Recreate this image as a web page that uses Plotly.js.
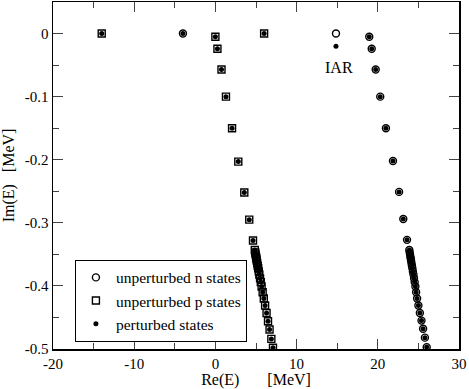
<!DOCTYPE html>
<html><head><meta charset="utf-8">
<script src="https://cdn.plot.ly/plotly-3.0.1.min.js"></script>
<style>html,body{margin:0;padding:0;background:#fff}#chart{width:469px;height:389px}</style>
</head><body><div id="chart"></div>
<script>
// unperturbed states on the real axis
const nTopRe = [-4, 14.85];
const nTopIm = [0, 0];
const pTopRe = [-14, 6];
const pTopIm = [0, 0];
// perturbed states on the real axis (IAR shifted)
const pertTopRe = [-14, -4, 6, 14.85];
const pertTopIm = [0, 0, 0, -0.02];
// p-state resonance branch (left)
const leftRe = [0.0, 0.25, 0.75, 1.30, 2.05, 2.82, 3.56, 4.17, 4.63, 4.85, 4.91, 4.95, 5.01, 5.05, 5.09, 5.15, 5.21, 5.27, 5.34, 5.41, 5.50, 5.59, 5.69, 5.82, 5.96, 6.12, 6.30, 6.48, 6.67, 6.89, 7.09];
const leftIm = [-0.005, -0.024, -0.057, -0.100, -0.150, -0.203, -0.252, -0.295, -0.328, -0.343, -0.347, -0.350, -0.354, -0.357, -0.360, -0.364, -0.368, -0.372, -0.377, -0.382, -0.388, -0.394, -0.401, -0.410, -0.420, -0.431, -0.443, -0.456, -0.469, -0.484, -0.498];
// n-state resonance branch (right)
const rightRe = [18.95, 19.25, 19.74, 20.30, 21.00, 21.87, 22.62, 23.14, 23.60, 23.88, 23.93, 23.97, 24.02, 24.06, 24.10, 24.15, 24.20, 24.26, 24.32, 24.39, 24.46, 24.54, 24.63, 24.72, 24.84, 25.00, 25.18, 25.38, 25.58, 25.80, 26.02];
const rightIm = [-0.005, -0.024, -0.057, -0.100, -0.150, -0.202, -0.251, -0.294, -0.327, -0.343, -0.347, -0.350, -0.354, -0.357, -0.360, -0.364, -0.368, -0.372, -0.377, -0.382, -0.388, -0.394, -0.401, -0.410, -0.420, -0.431, -0.443, -0.455, -0.468, -0.482, -0.497];

const xTicks = [-20, -10, 0, 10, 20, 30];
const xTickText = ['-20', '-10', '0', '10', '20', '30'];
const yTicks = [0, -0.1, -0.2, -0.3, -0.4, -0.5];
const yTickText = ['0', '-0.1', '-0.2', '-0.3', '-0.4', '-0.5'];

const F = 'Liberation Serif';
const traces = [
  {x: nTopRe.concat(rightRe), y: nTopIm.concat(rightIm), mode: 'markers', type: 'scatter', name: 'unperturbed n states',
   marker: {symbol: 'circle-open', size: 7, color: '#000', line: {width: 1.4, color: '#000'}}},
  {x: pTopRe.concat(leftRe), y: pTopIm.concat(leftIm), mode: 'markers', type: 'scatter', name: 'unperturbed p states',
   marker: {symbol: 'square-open', size: 7, color: '#000', line: {width: 1.4, color: '#000'}}},
  {x: pertTopRe.concat(leftRe, rightRe), y: pertTopIm.concat(leftIm, rightIm), mode: 'markers', type: 'scatter', name: 'perturbed states',
   marker: {symbol: 'circle', size: 5, color: '#000'}}
];
const axBase = {showline: true, linecolor: '#000', linewidth: 1.5, mirror: 'allticks', ticks: 'inside', ticklen: 10, tickwidth: 1, tickcolor: '#444',
  showgrid: false, zeroline: false, tickfont: {family: F, size: 15, color: '#000'}, tickmode: 'array'};
const layout = {
  width: 469, height: 389,
  margin: {l: 53, r: 10, t: 2, b: 40},
  paper_bgcolor: '#fff', plot_bgcolor: '#fff',
  font: {family: F, size: 15, color: '#000'},
  showlegend: true,
  legend: {x: 0.054, y: 0.257, xanchor: 'left', yanchor: 'top', bordercolor: '#000', borderwidth: 1, bgcolor: '#fff',
    font: {family: F, size: 15.5, color: '#000'}, itemwidth: 30, tracegroupgap: 0},
  xaxis: Object.assign({}, axBase, {range: [-20, 30], tickvals: xTicks, ticktext: xTickText,
    minor: {tickmode: 'array', tickvals: [-15, -5, 5, 15, 25], ticks: 'inside', ticklen: 6, tickcolor: '#444', tickwidth: 1},
    title: {text: 'Re(E)\u00a0\u00a0\u00a0\u00a0\u00a0\u00a0\u00a0[MeV]', font: {family: F, size: 16, color: '#000'}, standoff: 4}}),
  yaxis: Object.assign({}, axBase, {range: [-0.5, 0.05], tickvals: yTicks, ticktext: yTickText,
    minor: {tickmode: 'array', tickvals: [-0.05, -0.15, -0.25, -0.35, -0.45], ticks: 'inside', ticklen: 6, tickcolor: '#444', tickwidth: 1},
    title: {text: 'Im(E)\u00a0\u00a0\u00a0[MeV]', font: {family: F, size: 16, color: '#000'}, standoff: 7}}),
  annotations: [{x: 15.2, y: -0.054, xref: 'x', yref: 'y', text: 'IAR', showarrow: false, font: {family: F, size: 16, color: '#000'}}]
};
Plotly.newPlot('chart', traces, layout, {displayModeBar: false, staticPlot: true});
</script></body></html>
